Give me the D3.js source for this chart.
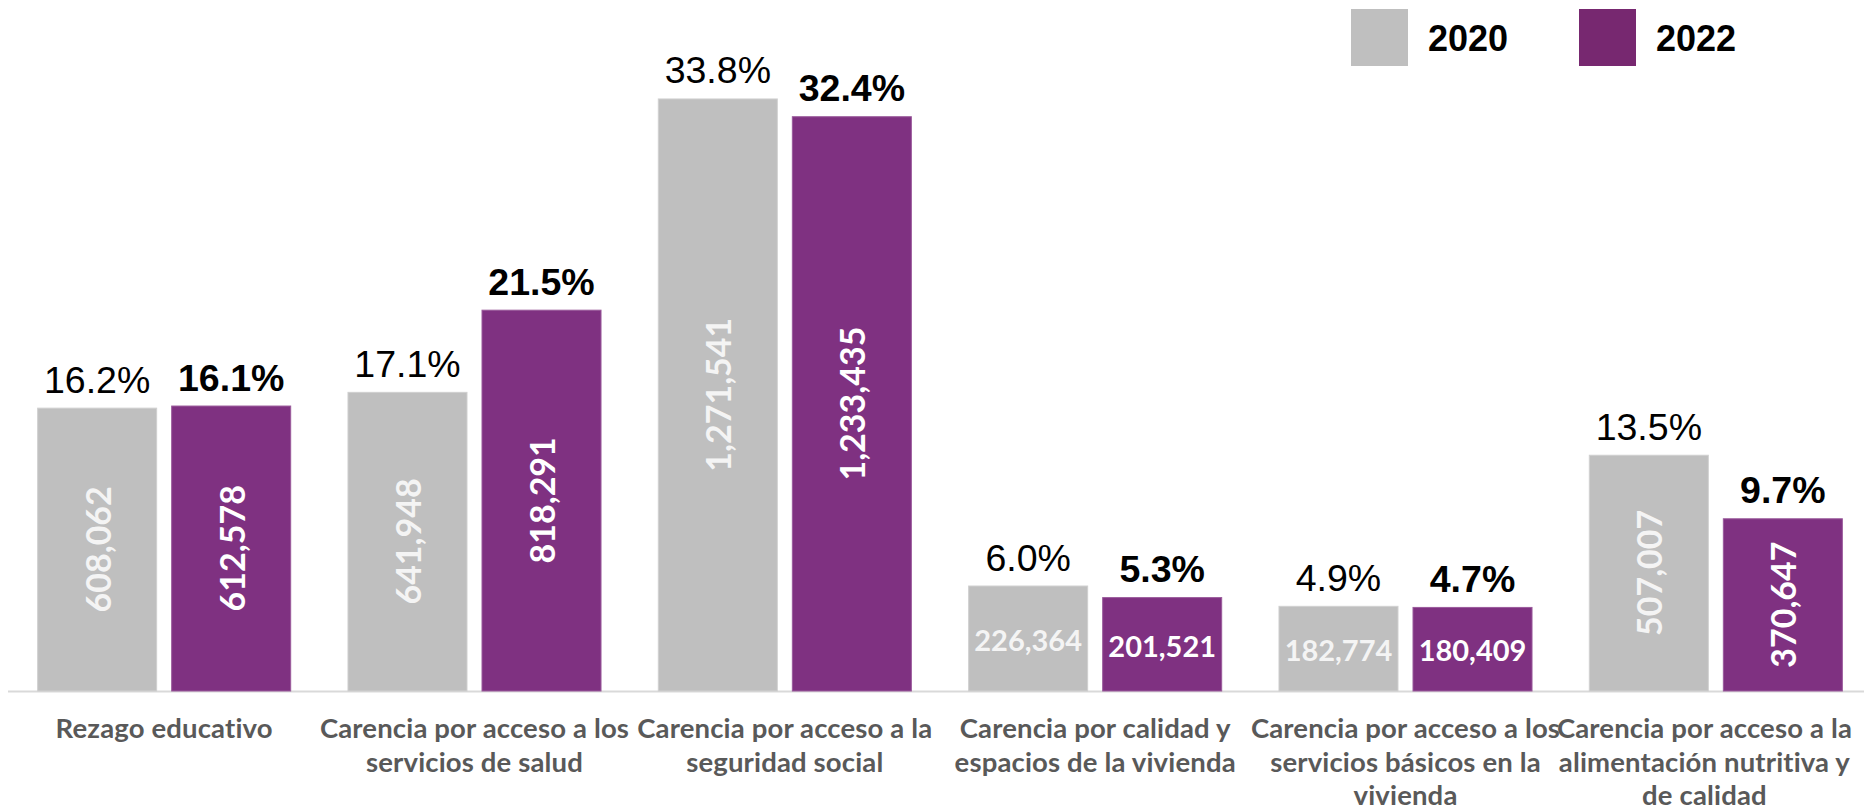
<!DOCTYPE html>
<html>
<head>
<meta charset="utf-8">
<script src="https://cdn.jsdelivr.net/npm/d3@7"></script>
<style>
  html, body { margin: 0; padding: 0; background: #ffffff; }
  svg { display: block; }
</style>
</head>
<body>
<svg id="chart" width="1864" height="811"></svg>
<script>
// ---- Data ----
const categories = [
  "Rezago educativo",
  "Carencia por acceso a los servicios de salud",
  "Carencia por acceso a la seguridad social",
  "Carencia por calidad y espacios de la vivienda",
  "Carencia por acceso a los servicios básicos en la vivienda",
  "Carencia por acceso a la alimentación nutritiva y de calidad"
];
const categoryLines = [
  ["Rezago educativo"],
  ["Carencia por acceso a los", "servicios de salud"],
  ["Carencia por acceso a la", "seguridad social"],
  ["Carencia por calidad y", "espacios de la vivienda"],
  ["Carencia por acceso a los", "servicios básicos en la", "vivienda"],
  ["Carencia por acceso a la", "alimentación nutritiva y", "de calidad"]
];
const seriesNames = ["2020", "2022"];
const people2020 = [608062, 641948, 1271541, 226364, 182774, 507007];
const people2022 = [612578, 818291, 1233435, 201521, 180409, 370647];
const pct2020 = [16.2, 17.1, 33.8, 6.0, 4.9, 13.5];
const pct2022 = [16.1, 21.5, 32.4, 5.3, 4.7, 9.7];

// ---- Styles ----
const colors = { "2020": "#bfbfbf", "2022": "#7f3181" };
const strokeColors = { "2020": "#d0d0d0", "2022": "#9a5a9b" };
const legendColors = { "2020": "#bfbfbf", "2022": "#772870" };
const innerTextColors = { "2020": "#f4f4f4", "2022": "#ffffff" };

const svg = d3.select("#chart");
const baseY = 691;

const x0 = d3.scaleBand().domain(categories).range([9, 1871]).paddingInner(0).paddingOuter(0);
const x1 = d3.scaleBand().domain(seriesNames).range([0, x0.bandwidth()]).paddingInner(0.1045).paddingOuter(0.21);
const y = d3.scaleLinear().domain([0, 1400000]).range([baseY, baseY - 1400000 * 4.66e-4]);

const rows = [];
categories.forEach((c, i) => {
  rows.push({ cat: c, s: "2020", v: people2020[i], p: pct2020[i] });
  rows.push({ cat: c, s: "2022", v: people2022[i], p: pct2022[i] });
});

// axis line
svg.append("line")
  .attr("x1", 8).attr("x2", 1864)
  .attr("y1", baseY + 0.5).attr("y2", baseY + 0.5)
  .attr("stroke", "#d9d9d9").attr("stroke-width", 2);

const g = svg.append("g");
const bx = d => x0(d.cat) + x1(d.s);

g.selectAll("rect.bar").data(rows).enter().append("rect")
  .attr("class", "bar")
  .attr("x", d => bx(d) + 0.5)
  .attr("y", d => y(d.v) + 0.5)
  .attr("width", x1.bandwidth() - 1)
  .attr("height", d => baseY - y(d.v) - 0.5)
  .attr("fill", d => colors[d.s])
  .attr("stroke", d => strokeColors[d.s])
  .attr("stroke-width", 1);

// percentage labels
g.selectAll("text.pct").data(rows).enter().append("text")
  .attr("class", "pct")
  .attr("x", d => bx(d) + x1.bandwidth() / 2)
  .attr("y", d => y(d.v) - 15)
  .attr("text-anchor", "middle")
  .attr("font-family", "'Liberation Sans', Arial, sans-serif")
  .attr("font-size", 37.5)
  .attr("font-weight", d => d.s === "2022" ? "bold" : "normal")
  .attr("fill", "#000")
  .text(d => d.p.toFixed(1) + "%");

// inner value labels
const fmt = d3.format(",");
g.selectAll("text.val").data(rows).enter().append("text")
  .attr("class", "val")
  .attr("font-family", "Lato, 'Open Sans', sans-serif")
  .attr("font-weight", "bold")
  .attr("fill", d => innerTextColors[d.s])
  .attr("text-anchor", "middle")
  .attr("dominant-baseline", "central")
  .text(d => fmt(d.v))
  .each(function(d) {
    const el = d3.select(this);
    const cx = bx(d) + x1.bandwidth() / 2;
    const cy = (y(d.v) + baseY) / 2;
    el.attr("font-size", 34);
    const len = this.getComputedTextLength();
    const h = baseY - y(d.v);
    if (len + 20 < h) {
      el.attr("transform", `translate(${cx},${cy}) rotate(-90)`).attr("x", 0).attr("y", 0);
    } else {
      el.attr("font-size", 29).attr("x", cx).attr("y", cy + 1);
    }
  });

// category labels
const catG = svg.append("g");
categories.forEach((c, i) => {
  const t = catG.append("text")
    .attr("text-anchor", "middle")
    .attr("font-family", "Lato, 'Open Sans', sans-serif")
    .attr("font-weight", "bold")
    .attr("font-size", 27.5)
    .attr("letter-spacing", 0.15)
    .attr("fill", "#595959");
  const cx = x0(c) + x0.bandwidth() / 2;
  categoryLines[i].forEach((ln, j) => {
    t.append("tspan").attr("x", cx).attr("y", 738 + j * 33.5).text(ln);
  });
  const bb = t.node().getBBox();
  const overflow = bb.x + bb.width - 1852;
  if (overflow > 0) {
    t.selectAll("tspan").attr("x", cx - overflow);
  }
});

// legend
const legend = svg.append("g");
const legendX = [1351, 1579];
seriesNames.forEach((s, i) => {
  legend.append("rect")
    .attr("x", legendX[i]).attr("y", 9)
    .attr("width", 57).attr("height", 57)
    .attr("fill", legendColors[s]);
  legend.append("text")
    .attr("x", legendX[i] + 77).attr("y", 51)
    .attr("font-family", "'Liberation Sans', Arial, sans-serif")
    .attr("font-weight", "bold")
    .attr("font-size", 36)
    .attr("fill", "#000")
    .text(s);
});
</script>
</body>
</html>
